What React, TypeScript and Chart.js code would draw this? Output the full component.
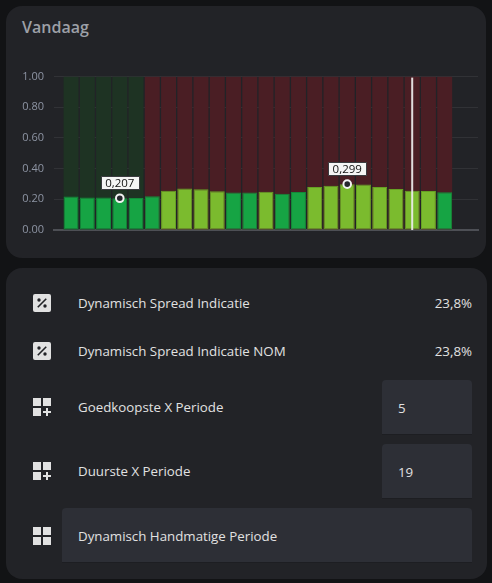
import React, { useEffect, useRef } from "react";
import { Chart, registerables } from "chart.js";

Chart.register(...registerables);

// ---- data ----
const hours = ["00", "01", "02", "03", "04", "05", "06", "07", "08", "09", "10", "11", "12", "13", "14", "15", "16", "17", "18", "19", "20", "21", "22", "23"];
const prices = [0.218, 0.212, 0.212, 0.207, 0.208, 0.22, 0.256, 0.271, 0.265, 0.252, 0.245, 0.244, 0.25, 0.237, 0.248, 0.28, 0.288, 0.299, 0.297, 0.28, 0.267, 0.256, 0.254, 0.246];
const priceLevels = ["low", "low", "low", "low", "low", "low", "high", "high", "high", "high", "low", "low", "high", "low", "low", "high", "high", "high", "high", "high", "high", "high", "high", "low"];
const bandValues = [1, 1, 1, 1, 1, 1, 1, 1, 1, 1, 1, 1, 1, 1, 1, 1, 1, 1, 1, 1, 1, 1, 1, 1];
const bandLevels = ["cheap", "cheap", "cheap", "cheap", "cheap", "expensive", "expensive", "expensive", "expensive", "expensive", "expensive", "expensive", "expensive", "expensive", "expensive", "expensive", "expensive", "expensive", "expensive", "expensive", "expensive", "expensive", "expensive", "expensive"];
const nowHour = 21;
const yTickValues = [0, 0.2, 0.4, 0.6, 0.8, 1.0];

const rowsData = [
  { icon: "percent", label: "Dynamisch Spread Indicatie", value: "23,8%", kind: "text" },
  { icon: "percent", label: "Dynamisch Spread Indicatie NOM", value: "23,8%", kind: "text" },
  { icon: "gridplus", label: "Goedkoopste X Periode", value: "5", kind: "input" },
  { icon: "gridplus", label: "Duurste X Periode", value: "19", kind: "input" },
  { icon: "grid", label: "Dynamisch Handmatige Periode", value: "", kind: "select" },
];

const FONT = "'Open Sans', 'Noto Sans', sans-serif";
const COLORS = {
  page: "#121315",
  card: "#222327",
  tick: "#8d94a3",
  grid: "rgba(255,255,255,0.07)",
  axis: "#4d4f55",
  low: "#16a444",
  lowBorder: "#128a39",
  high: "#7bbb2e",
  highBorder: "#66a024",
  cheapBg: "#1e3323",
  expensiveBg: "#4a1e24",
  text: "#e1e1e1",
  input: "#2d2f36",
};

const fmt = (v: number) => v.toFixed(3).replace(".", ",");

const overlayPlugin = {
  id: "overlay",
  afterDatasetsDraw(chart: any) {
    const { ctx, chartArea, scales } = chart;
    const xs = scales.x;
    const ys = scales.y;
    ctx.save();
    // now line
    const nx = xs.getPixelForValue(nowHour);
    ctx.strokeStyle = "rgba(238,238,238,0.92)";
    ctx.lineWidth = 2;
    ctx.beginPath();
    ctx.moveTo(nx, chartArea.top + 1);
    ctx.lineTo(nx, chartArea.bottom);
    ctx.stroke();

    // min/max markers
    let minI = 0;
    let maxI = 0;
    prices.forEach((p, i) => {
      if (p < prices[minI]) minI = i;
      if (p > prices[maxI]) maxI = i;
    });
    [minI, maxI].forEach((i) => {
      const px = xs.getPixelForValue(i);
      const py = ys.getPixelForValue(prices[i]);
      ctx.beginPath();
      ctx.arc(px, py, 3.8, 0, Math.PI * 2);
      ctx.fillStyle = "#25272c";
      ctx.fill();
      ctx.lineWidth = 2;
      ctx.strokeStyle = "#f2f2f2";
      ctx.stroke();

      const text = fmt(prices[i]);
      ctx.font = `11.5px ${FONT}`;
      const tw = ctx.measureText(text).width;
      const bw = tw + 9;
      const bh = 13;
      const bx = px - bw / 2;
      const by = py - 9 - bh;
      ctx.fillStyle = "#f5f5f5";
      ctx.strokeStyle = "#3a3b3f";
      ctx.lineWidth = 1;
      ctx.beginPath();
      ctx.rect(Math.round(bx) + 0.5, Math.round(by) + 0.5, Math.round(bw), bh);
      ctx.fill();
      ctx.stroke();
      ctx.fillStyle = "#111";
      ctx.textAlign = "center";
      ctx.textBaseline = "middle";
      ctx.fillText(text, px, by + bh / 2 + 1);
    });
    ctx.restore();
  },
};

function PriceChart() {
  const ref = useRef<HTMLCanvasElement | null>(null);
  useEffect(() => {
    if (!ref.current) return;
    const chart = new Chart(ref.current, {
      type: "bar",
      data: {
        labels: hours,
        datasets: [
          {
            label: "Prijs",
            data: prices.map((p, i) => ({ x: i, y: p })),
            backgroundColor: priceLevels.map((l) => (l === "high" ? COLORS.high : COLORS.low)),
            borderColor: priceLevels.map((l) => (l === "high" ? COLORS.highBorder : COLORS.lowBorder)),
            borderWidth: 1,
            borderSkipped: false,
            order: 1,
            barPercentage: 0.92,
            categoryPercentage: 1,
          },
          {
            label: "Periode",
            data: bandValues.map((v, i) => ({ x: i, y: v })),
            backgroundColor: bandLevels.map((l) => (l === "cheap" ? COLORS.cheapBg : COLORS.expensiveBg)),
            borderWidth: 0,
            order: 2,
            barPercentage: 0.92,
            categoryPercentage: 1,
          },
        ] as any,
      },
      options: {
        animation: false,
        responsive: true,
        maintainAspectRatio: false,
        layout: { padding: { top: 14, right: 2, bottom: 20, left: 0 } },
        plugins: { legend: { display: false }, tooltip: { enabled: false } },
        scales: {
          x: {
            type: "linear",
            stacked: true,
            offset: false,
            min: -1.05,
            max: 25.05,
            afterBuildTicks: (s: any) => {
              s.ticks = hours.map((_, i) => ({ value: i }));
            },
            ticks: { display: false },
            grid: { display: false },
            border: { display: true, color: COLORS.axis, width: 2 },
            afterFit: (s: any) => {
              s.height = 0;
            },
          },
          y: {
            min: 0,
            max: 1,
            stacked: false,
            afterBuildTicks: (s: any) => {
              s.ticks = yTickValues.map((v) => ({ value: v }));
            },
            ticks: {
              padding: 10,
              color: COLORS.tick,
              font: { size: 11, family: FONT },
              callback: (v: any) => Number(v).toFixed(2),
            },
            grid: { color: COLORS.grid, drawTicks: false },
            border: { display: false },
            afterFit: (s: any) => {
              s.width = 40;
            },
          },
        } as any,
      },
      plugins: [overlayPlugin],
    });
    return () => chart.destroy();
  }, []);
  return <canvas ref={ref} />;
}

function Icon({ kind }: { kind: string }) {
  if (kind === "percent") {
    return (
      <svg width="24" height="24" viewBox="0 0 24 24">
        <rect x="3" y="3" width="18" height="18" rx="2" fill={COLORS.text} />
        <circle cx="9" cy="9" r="1.7" fill="#222327" />
        <circle cx="15" cy="15" r="1.7" fill="#222327" />
        <path d="M8.3 16.8L7.2 15.7L15.7 7.2L16.8 8.3Z" fill="#222327" />
      </svg>
    );
  }
  if (kind === "gridplus") {
    return (
      <svg width="24" height="24" viewBox="0 0 24 24">
        <path d="M3 11H11V3H3M3 21H11V13H3M13 3V11H21V3M18 13H16V16H13V18H16V21H18V18H21V16H18Z" fill={COLORS.text} />
      </svg>
    );
  }
  return (
    <svg width="24" height="24" viewBox="0 0 24 24">
      <path d="M3 11H11V3H3M3 21H11V13H3M13 21H21V13H13M13 3V11H21V3" fill={COLORS.text} />
    </svg>
  );
}

const rowCenters = [303, 351, 407, 471, 536];
const ROW_FONT = 13.3;

export default function App() {
  return (
    <div style={{ position: "fixed", inset: 0, background: COLORS.page, fontFamily: FONT, overflow: "hidden" }}>
      {/* card 1 */}
      <div style={{ position: "absolute", left: 6, top: 6, width: 480, height: 252, background: COLORS.card, borderRadius: 16 }}>
        <div style={{ position: "absolute", left: 16, top: 10, fontSize: 16, fontWeight: 600, color: "#9da0a7" }}>Vandaag</div>
        <div style={{ position: "absolute", left: 8, top: 54, width: 466, height: 190 }}>
          <PriceChart />
        </div>
      </div>
      {/* card 2 */}
      <div style={{ position: "absolute", left: 6, top: 268, width: 481, height: 311, background: COLORS.card, borderRadius: 16 }} />
      {rowsData.map((r, i) => {
        const cy = rowCenters[i];
        return (
          <React.Fragment key={r.label}>
            <div style={{ position: "absolute", left: 30, top: cy - 12, width: 24, height: 24 }}>
              <Icon kind={r.icon} />
            </div>
            {r.kind === "select" && (
              <div style={{ position: "absolute", left: 62, top: cy - 28, width: 410, height: 55, background: COLORS.input, borderRadius: "4px 4px 0 0", borderBottom: "1px solid #1d1e22", boxSizing: "border-box" }} />
            )}
            <div style={{ position: "absolute", left: 78, top: cy - 10, height: 20, lineHeight: "20px", fontSize: ROW_FONT, color: COLORS.text, whiteSpace: "nowrap" }}>{r.label}</div>
            {r.kind === "text" && (
              <div style={{ position: "absolute", right: 20, top: cy - 10, height: 20, lineHeight: "20px", fontSize: ROW_FONT, color: COLORS.text }}>{r.value}</div>
            )}
            {r.kind === "input" && (
              <div style={{ position: "absolute", left: 382, top: cy - 27, width: 90, height: 55, background: COLORS.input, borderRadius: "4px 4px 0 0", borderBottom: "1px solid #1d1e22", boxSizing: "border-box" }}>
                <div style={{ position: "absolute", left: 16, top: 18, lineHeight: "20px", fontSize: ROW_FONT, color: COLORS.text }}>{r.value}</div>
              </div>
            )}
          </React.Fragment>
        );
      })}
    </div>
  );
}
